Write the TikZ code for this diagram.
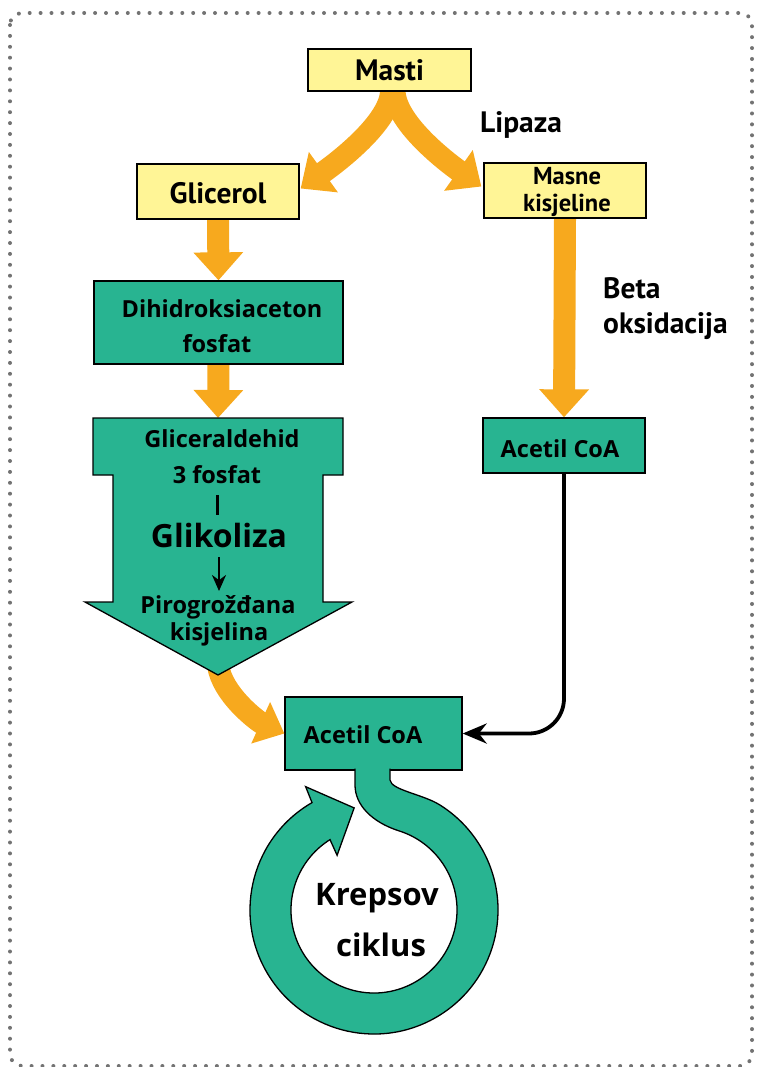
\documentclass[tikz,border=0pt]{standalone}
\usepackage{fontspec}
\setmainfont{PT Sans}
\newfontfamily\fa{PT Sans}
\newfontfamily\fb{Open Sans}
\usetikzlibrary{arrows.meta,calc}
\definecolor{ylw}{RGB}{255,245,150}
\definecolor{tealc}{RGB}{40,180,145}
\definecolor{orng}{RGB}{247,169,30}
\definecolor{dotc}{RGB}{115,115,115}
\newcommand\krebsring{(355,-768.5) -- (355,-785) .. controls (355,-805) and (372,-822) .. ($(C)+(73:83)$) arc[start angle=73, end angle=-238, radius=83] -- ($(C)+(124:66)$) -- ($(C)+(101:104)$) -- ($(C)+(119:141)$) -- ($(C)+(120:124)$) arc[start angle=120, end angle=418, radius=124] .. controls (422.7,-794.2) and (391,-790) .. (390,-780) -- (390,-768.5)}
\begin{document}
\begin{tikzpicture}[x=1pt,y=1pt,
  ybox/.style={draw=black, line width=1.3pt, fill=ylw, inner sep=0pt},
  tbox/.style={draw=black, line width=1.3pt, fill=tealc, inner sep=0pt},
  oarr/.style={draw=orng, line width=22pt, -{Triangle[length=28pt,width=48pt]}},
  ta/.style={inner sep=0pt, font=\fa\bfseries\fontsize{29.5}{31}\selectfont},
  tsm/.style={inner sep=0pt, font=\fa\bfseries\fontsize{24.5}{26}\selectfont},
  tb/.style={inner sep=0pt, font=\fb\bfseries\fontsize{23.5}{25}\selectfont},
  tbig/.style={inner sep=0pt, font=\fb\bfseries\fontsize{32}{34}\selectfont},
  tkr/.style={inner sep=0pt, font=\fb\bfseries\fontsize{31}{33}\selectfont},
  dotborder/.style={draw=dotc, line width=4pt, line cap=round, dash pattern=on 0pt off 10.9pt, rounded corners=12pt}
]
\useasboundingbox (0,0) rectangle (757,-1067);
\draw[dotborder] (10,-13) rectangle (752,-1066);

% boxes
\node[ybox, minimum width=163pt, minimum height=42pt, ta] (masti) at (389.5,-70) {Masti};
\node[ybox, minimum width=162pt, minimum height=55pt] (glicerol) at (218,-191.5) {};
\node[ybox, minimum width=162pt, minimum height=55pt] (masne) at (565,-190.5) {};
\node[tbox, minimum width=249pt, minimum height=83pt] (dihid) at (218.5,-322.5) {};
\node[tbox, minimum width=162pt, minimum height=55pt] (acetR) at (564,-445.5) {};
\node[tbox, minimum width=177pt, minimum height=73pt] (acetB) at (373.5,-733.5) {};
\coordinate (bigtop) at (218,-418);
\coordinate (bigtip) at (218,-675);
\coordinate (C) at (374,-910);

% orange arrows
\draw[oarr] ($(masti.south)+(1.5,1)$) .. controls (391,-125) and (325,-171) .. ($(glicerol.east)+(1,3)$);
\draw[oarr] ($(masti.south)+(5,1)$) .. controls (395,-125) and (455,-168) .. ($(masne.west)+(-2,4)$);
\draw[oarr] (glicerol.south) -- (dihid.north);
\draw[oarr] (dihid.south) -- (bigtop);
\draw[oarr] (masne.south) -- (acetR.north);
\draw[draw=orng, line width=22pt, -{Triangle[length=26pt,width=44pt]}] ($(bigtip)+(0,10)$) .. controls (222,-695) and (259,-722) .. (acetB.west);

% redraw boxes on top of arrows
\node[ybox, minimum width=163pt, minimum height=42pt, ta] at (masti) {Masti};
\node[ybox, minimum width=162pt, minimum height=55pt, ta] at (glicerol) {};
\node[ybox, minimum width=162pt, minimum height=55pt] at (masne) {};
\node[tbox, minimum width=249pt, minimum height=83pt] at (dihid) {};
\node[tbox, minimum width=162pt, minimum height=55pt] at (acetR) {};

% big arrow (glycolysis)
\draw[line width=1.3pt, fill=tealc] (93,-418) -- (343,-418) -- (343,-475) -- (323,-475) -- (323,-602) -- (352,-602) -- (bigtip) -- (85,-602) -- (113,-602) -- (113,-475) -- (93,-475) -- cycle;

% texts
\node[ta, anchor=base] (tglic) at (218,-204) {Glicerol};
\node[tsm, anchor=base] (tmasne) at (567,-185) {Masne};
\node[tsm, anchor=base] (tkis) at (567,-212) {kisjeline};
\node[ta, anchor=base west] (tlip) at (480,-133) {Lipaza};
\node[ta, anchor=base west] (tbeta) at (603,-298) {Beta};
\node[ta, anchor=base west] (toks) at (603,-333) {oksidacija};
\node[tb, anchor=base] (tdih) at (222,-317) {Dihidroksiaceton};
\node[tb, anchor=base] (tfos) at (217,-352) {fosfat};
\node[tb, anchor=base] (tgald) at (222,-447) {Gliceraldehid};
\node[tb, anchor=base] (t3f) at (217,-483) {3 fosfat};
\draw[line width=3pt] (217,-495) -- (217,-515);
\node[tbig, anchor=base] (tglik) at (219,-547) {Glikoliza};
\draw[line width=2.5pt, -{Stealth[length=16pt,width=14pt]}] (219,-557) -- (219,-591);
\node[tb, anchor=base] (tpiro) at (218,-613) {Pirogrožđana};
\node[tb, anchor=base] (tkisl) at (219,-640) {kisjelina};
\node[tb, anchor=base] (tacR) at (560,-457) {Acetil CoA};

% black connector
\draw[line width=3.8pt, rounded corners=35pt, -{Stealth[length=24pt,width=20pt]}] (acetR.south) |- (acetB.east);

% Krebs ring
\fill[tealc] \krebsring -- cycle;
\draw[line width=1.3pt] \krebsring;
\node[tb, anchor=base] (tacB) at (363,-743) {Acetil CoA};
\node[tkr, anchor=base] (tkrep) at (377,-905) {Krepsov};
\node[tkr, anchor=base] (tcik) at (381,-956) {ciklus};
\end{tikzpicture}
\end{document}
